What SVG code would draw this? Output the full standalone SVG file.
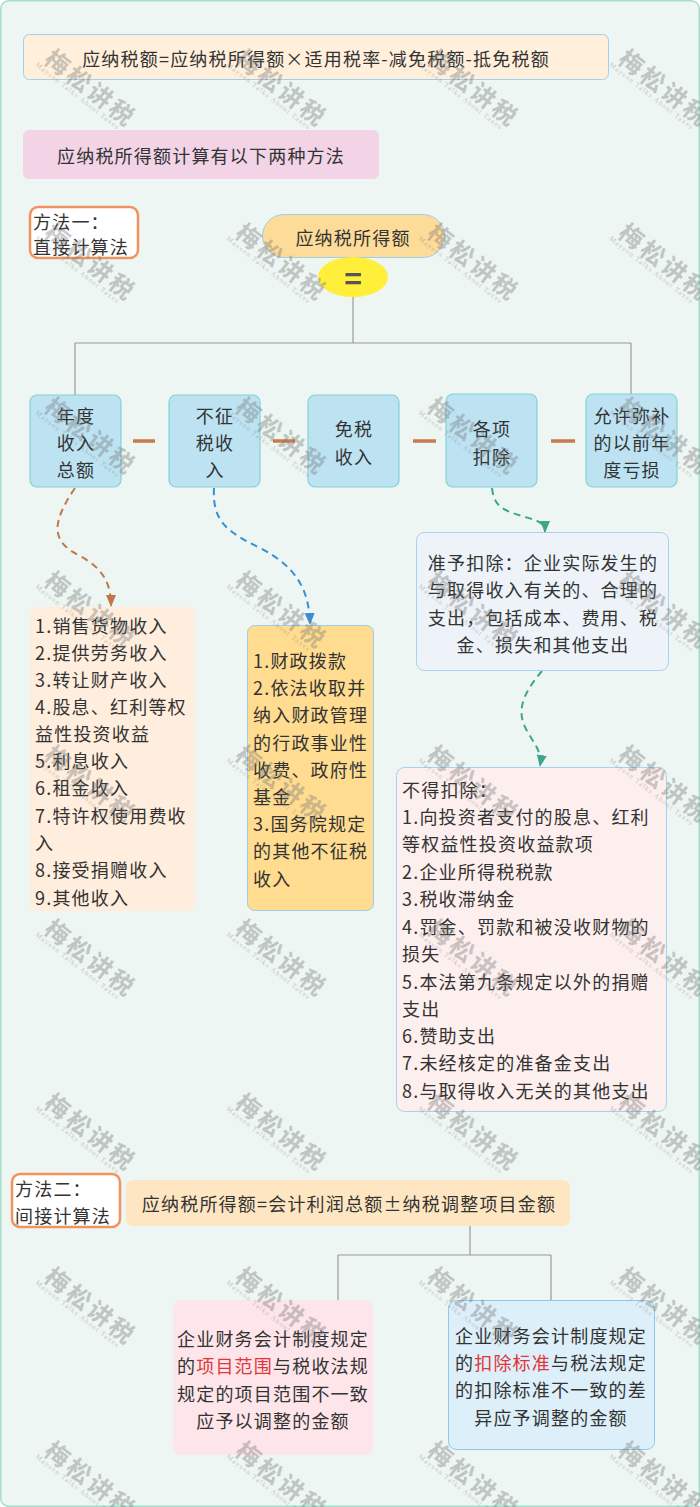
<svg xmlns="http://www.w3.org/2000/svg" xmlns:xlink="http://www.w3.org/1999/xlink" width="700" height="1507" viewBox="0 0 700 1507">
<style>
text{font-family:"Noto Sans CJK SC","Noto Sans",sans-serif;font-size:18px;fill:#333;dominant-baseline:central;letter-spacing:1.2px}
.c{text-anchor:middle}
.red{fill:#E0353B}
.ln{fill:none;stroke:#9a9a9a;stroke-width:1.2}
.dash{stroke:#C97A4A;stroke-width:3.5}
.blue{fill:#BDE3F3;stroke:#86D1D6;stroke-width:1.2}
.meth{fill:#fff;stroke:#F0935C;stroke-width:2.5}
.wmc{font-size:24px;letter-spacing:3px;fill:#777;font-weight:bold}
.wme{font-family:"Liberation Serif",serif;font-size:7px;letter-spacing:1.2px;fill:#777}
</style>
<defs>
<marker id="arB" markerUnits="userSpaceOnUse" markerWidth="12" markerHeight="12" viewBox="0 0 12 12" refX="11" refY="6" orient="auto"><path d="M0,1 L12,6 L0,11 Z" fill="#C0784A"/></marker>
<marker id="arL" markerUnits="userSpaceOnUse" markerWidth="12" markerHeight="12" viewBox="0 0 12 12" refX="11" refY="6" orient="auto"><path d="M0,1 L12,6 L0,11 Z" fill="#3A8ED6"/></marker>
<marker id="arT" markerUnits="userSpaceOnUse" markerWidth="12" markerHeight="12" viewBox="0 0 12 12" refX="11" refY="6" orient="auto"><path d="M0,1 L12,6 L0,11 Z" fill="#3DA58B"/></marker>
<g id="wm" opacity="0.38">
<g transform="rotate(38)">
<text x="-10" y="0" class="wmc">梅松讲税</text>
<text x="-14" y="16" class="wme">Mayson Talks About Taxes</text>
</g>
</g>
</defs>
<rect x="0.75" y="0.75" width="698.5" height="1505.5" rx="8" fill="#EDF6F2" stroke="#A9DDCB" stroke-width="1.5"/>

<g id="connectors">
<path class="ln" d="M353,297 V343 M75,343 H631 M75,343 V395 M631,343 V395"/>
<path class="dash" d="M133,441 H155 M273,441 H295 M413,441 H436 M551,441 H575"/>
<path d="M75,488 C50,525 52,542 80,556 C102,568 111,582 111,606" fill="none" stroke="#C0784A" stroke-width="2" stroke-dasharray="7,5" marker-end="url(#arB)"/>
<path d="M214,488 C212,522 228,532 260,548 C295,566 309,588 310,624" fill="none" stroke="#3A8ED6" stroke-width="2" stroke-dasharray="7,5" marker-end="url(#arL)"/>
<path d="M492,488 C494,506 502,510 522,516 C538,521 545,522 545,532" fill="none" stroke="#3DA58B" stroke-width="2" stroke-dasharray="7,5" marker-end="url(#arT)"/>
<path d="M542,671 C526,690 518,705 523,722 C528,738 543,748 540,766" fill="none" stroke="#3DA58B" stroke-width="2" stroke-dasharray="7,5" marker-end="url(#arT)"/>
<path class="ln" d="M470,1226 V1255 M338,1255 H551 M338,1255 V1300 M551,1255 V1300"/>
</g>

<g id="n-formula1">
<rect x="23.5" y="34.5" width="585" height="45" rx="6" fill="#FFEFDB" stroke="#9FD0F0" stroke-width="1"/>
<text x="316" y="58" class="c">应纳税额=应纳税所得额×适用税率-减免税额-抵免税额</text>
</g>
<g id="n-intro">
<rect x="23" y="130" width="356" height="49" rx="6" fill="#F2D4E6"/>
<text x="201" y="155" class="c">应纳税所得额计算有以下两种方法</text>
</g>
<g id="n-method1">
<rect x="30" y="207" width="108" height="51" rx="8" class="meth"/>
<text x="33" y="221">方法一：</text>
<text x="33" y="246">直接计算法</text>
</g>
<g id="n-taxable">
<rect x="262.5" y="214.5" width="182" height="43" rx="21.5" fill="#FDDB98" stroke="#9CCFEA" stroke-width="1"/>
<text x="353" y="237" class="c">应纳税所得额</text>
</g>
<g id="n-equals">
<ellipse cx="353" cy="277" rx="35" ry="20" fill="#FFEE3A"/>
<text x="353" y="277" class="c" style="font-size:30px;font-weight:bold;fill:#555;letter-spacing:0">=</text>
</g>
<g id="n-income">
<rect x="30" y="395" width="91" height="92" rx="7" class="blue"/>
<text x="76" y="415" class="c">年度</text>
<text x="76" y="442" class="c">收入</text>
<text x="76" y="469" class="c">总额</text>
</g>
<g id="n-nontax">
<rect x="169" y="395" width="91" height="92" rx="7" class="blue"/>
<text x="215" y="415" class="c">不征</text>
<text x="215" y="442" class="c">税收</text>
<text x="215" y="469" class="c">入</text>
</g>
<g id="n-exempt">
<rect x="308" y="395" width="91" height="92" rx="7" class="blue"/>
<text x="354" y="428" class="c">免税</text>
<text x="354" y="456" class="c">收入</text>
</g>
<g id="n-deduct">
<rect x="446" y="394" width="91" height="93" rx="7" class="blue"/>
<text x="492" y="428" class="c">各项</text>
<text x="492" y="456" class="c">扣除</text>
</g>
<g id="n-loss">
<rect x="586" y="394" width="91" height="93" rx="7" class="blue"/>
<text x="632" y="415" class="c">允许弥补</text>
<text x="632" y="442" class="c">的以前年</text>
<text x="632" y="469" class="c">度亏损</text>
</g>
<g id="n-incomelist">
<rect x="30" y="607" width="165" height="304" rx="7" fill="#FFEEDD"/>
<text x="35" y="625">1.销售货物收入</text>
<text x="35" y="652">2.提供劳务收入</text>
<text x="35" y="679">3.转让财产收入</text>
<text x="35" y="706">4.股息、红利等权</text>
<text x="35" y="733">益性投资收益</text>
<text x="35" y="760">5.利息收入</text>
<text x="35" y="787">6.租金收入</text>
<text x="35" y="815">7.特许权使用费收</text>
<text x="35" y="842">入</text>
<text x="35" y="869">8.接受捐赠收入</text>
<text x="35" y="897">9.其他收入</text>
</g>
<g id="n-nontaxlist">
<rect x="247.5" y="625.5" width="126" height="285" rx="7" fill="#FFDC90" stroke="#99CFEA" stroke-width="1"/>
<text x="253" y="660">1.财政拨款</text>
<text x="253" y="687">2.依法收取并</text>
<text x="253" y="714">纳入财政管理</text>
<text x="253" y="742">的行政事业性</text>
<text x="253" y="769">收费、政府性</text>
<text x="253" y="796">基金</text>
<text x="253" y="823">3.国务院规定</text>
<text x="253" y="850">的其他不征税</text>
<text x="253" y="878">收入</text>
</g>
<g id="n-allowed">
<rect x="416.5" y="532.5" width="252" height="138" rx="8" fill="#EDF3F8" stroke="#A5D2F0" stroke-width="1"/>
<text x="543" y="562" class="c">准予扣除：企业实际发生的</text>
<text x="543" y="589" class="c">与取得收入有关的、合理的</text>
<text x="543" y="617" class="c">支出，包括成本、费用、税</text>
<text x="543" y="644" class="c">金、损失和其他支出</text>
</g>
<g id="n-notallowed">
<rect x="396.5" y="767.5" width="270" height="344" rx="8" fill="#FDEFEE" stroke="#A5D2F0" stroke-width="1"/>
<text x="402" y="789">不得扣除：</text>
<text x="402" y="816">1.向投资者支付的股息、红利</text>
<text x="402" y="843">等权益性投资收益款项</text>
<text x="402" y="871">2.企业所得税税款</text>
<text x="402" y="898">3.税收滞纳金</text>
<text x="402" y="926">4.罚金、罚款和被没收财物的</text>
<text x="402" y="953">损失</text>
<text x="402" y="981">5.本法第九条规定以外的捐赠</text>
<text x="402" y="1008">支出</text>
<text x="402" y="1035">6.赞助支出</text>
<text x="402" y="1062">7.未经核定的准备金支出</text>
<text x="402" y="1090">8.与取得收入无关的其他支出</text>
</g>
<g id="n-method2">
<rect x="12" y="1174" width="108" height="53" rx="8" class="meth"/>
<text x="15" y="1188">方法二：</text>
<text x="15" y="1215">间接计算法</text>
</g>
<g id="n-formula2">
<rect x="126" y="1180" width="444" height="46" rx="7" fill="#FFE6C2"/>
<text x="349" y="1203" class="c">应纳税所得额=会计利润总额±纳税调整项目金额</text>
</g>
<g id="n-scope">
<rect x="173" y="1300" width="200" height="155" rx="8" fill="#FDE5EA"/>
<text x="273" y="1338" class="c">企业财务会计制度规定</text>
<text x="273" y="1365" class="c">的<tspan class="red">项目范围</tspan>与税收法规</text>
<text x="273" y="1393" class="c">规定的项目范围不一致</text>
<text x="273" y="1420" class="c">应予以调整的金额</text>
</g>
<g id="n-standard">
<rect x="448.5" y="1300.5" width="206" height="149" rx="8" fill="#DDEFF9" stroke="#8EC8EE" stroke-width="1"/>
<text x="551" y="1335" class="c">企业财务会计制度规定</text>
<text x="551" y="1362" class="c">的<tspan class="red">扣除标准</tspan>与税法规定</text>
<text x="551" y="1389" class="c">的扣除标准不一致的差</text>
<text x="551" y="1417" class="c">异应予调整的金额</text>
</g>

<g id="watermarks">
<use href="#wm" x="57" y="60"/><use href="#wm" x="248" y="60"/><use href="#wm" x="440" y="60"/><use href="#wm" x="631" y="60"/>
<use href="#wm" x="57" y="234"/><use href="#wm" x="248" y="234"/><use href="#wm" x="440" y="234"/><use href="#wm" x="631" y="234"/>
<use href="#wm" x="57" y="408"/><use href="#wm" x="248" y="408"/><use href="#wm" x="440" y="408"/><use href="#wm" x="631" y="408"/>
<use href="#wm" x="57" y="582"/><use href="#wm" x="248" y="582"/><use href="#wm" x="440" y="582"/><use href="#wm" x="631" y="582"/>
<use href="#wm" x="57" y="756"/><use href="#wm" x="248" y="756"/><use href="#wm" x="440" y="756"/><use href="#wm" x="631" y="756"/>
<use href="#wm" x="57" y="930"/><use href="#wm" x="248" y="930"/><use href="#wm" x="440" y="930"/><use href="#wm" x="631" y="930"/>
<use href="#wm" x="57" y="1104"/><use href="#wm" x="248" y="1104"/><use href="#wm" x="440" y="1104"/><use href="#wm" x="631" y="1104"/>
<use href="#wm" x="57" y="1278"/><use href="#wm" x="248" y="1278"/><use href="#wm" x="440" y="1278"/><use href="#wm" x="631" y="1278"/>
<use href="#wm" x="57" y="1452"/><use href="#wm" x="248" y="1452"/><use href="#wm" x="440" y="1452"/><use href="#wm" x="631" y="1452"/>
</g>
</svg>
